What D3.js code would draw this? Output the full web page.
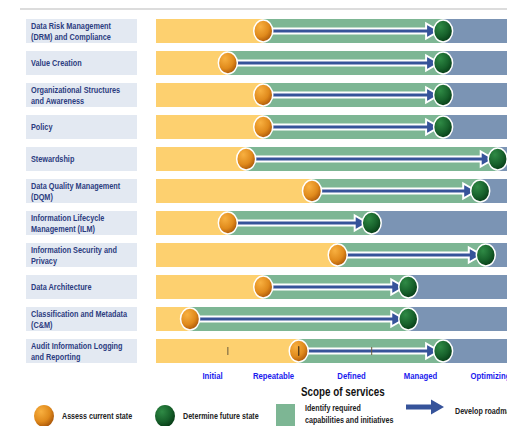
<!DOCTYPE html>
<html>
<head>
<meta charset="utf-8">
<script src="https://cdn.jsdelivr.net/npm/d3@7"></script>
<style>
  body { margin: 0; background: #fff; }
  svg { display: block; }
  text { font-family: "Liberation Sans", Arial, sans-serif; }
</style>
</head>
<body>
<svg id="chart" width="507" height="426"></svg>
<script>
// data
const categories = [
  ["Data Risk Management", "(DRM) and Compliance"],
  ["Value Creation"],
  ["Organizational Structures", "and Awareness"],
  ["Policy"],
  ["Stewardship"],
  ["Data Quality Management", "(DQM)"],
  ["Information Lifecycle", "Management (ILM)"],
  ["Information Security and", "Privacy"],
  ["Data Architecture"],
  ["Classification and Metadata", "(C&M)"],
  ["Audit Information Logging", "and Reporting"]
];
const stages = ["Initial", "Repeatable", "Defined", "Managed", "Optimizing"];
const currentState = [0.84, 0.26, 0.84, 0.84, 0.56, 1.50, 0.26, 1.83, 0.84, -0.36, 1.33];
const futureState  = [3.33, 3.33, 3.33, 3.33, 4.11, 3.86, 2.30, 3.94, 2.83, 2.83, 3.33];
const auditMarks = [0.26, 1.33, 2.30];

const svg = d3.select('#chart');
const width = 507;
const narrow = 0.86; // squeeze text to look like a narrow face

const barLeft = 156;
const x = d3.scaleLinear()
  .domain([0, 1, 2, 3, 4])
  .range([212, 273, 351, 420, 490]);

const y = d3.scaleBand()
  .domain(d3.range(categories.length))
  .range([19, 363])
  .paddingInner(0.25);

const bh = y.bandwidth();

const defs = svg.append('defs');
const og = defs.append('radialGradient').attr('id', 'orangeG')
  .attr('cx', '35%').attr('cy', '30%').attr('r', '75%');
og.append('stop').attr('offset', '0%').attr('stop-color', '#f8b040');
og.append('stop').attr('offset', '60%').attr('stop-color', '#e08a1c');
og.append('stop').attr('offset', '100%').attr('stop-color', '#a85408');
const gg = defs.append('radialGradient').attr('id', 'greenG')
  .attr('cx', '35%').attr('cy', '30%').attr('r', '75%');
gg.append('stop').attr('offset', '0%').attr('stop-color', '#2f8a45');
gg.append('stop').attr('offset', '60%').attr('stop-color', '#17612b');
gg.append('stop').attr('offset', '100%').attr('stop-color', '#063a15');

// top rule
svg.append('line')
  .attr('x1', 20).attr('x2', width).attr('y1', 9).attr('y2', 9)
  .attr('stroke', '#d0d0d0').attr('stroke-width', 1.5);

const rows = svg.selectAll('g.row')
  .data(categories.map((c, i) => ({ label: c, cur: currentState[i], fut: futureState[i], i })))
  .enter().append('g')
  .attr('class', 'row')
  .attr('transform', d => `translate(0,${y(d.i)})`);

// label boxes
rows.append('rect')
  .attr('x', 26).attr('width', 111).attr('height', bh)
  .attr('fill', '#e3e9f2');

rows.append('text')
  .attr('fill', '#2b3c7f')
  .attr('font-size', 8.5)
  .attr('font-weight', 'bold')
  .attr('transform', `translate(31,0) scale(${narrow},1)`)
  .each(function(d) {
    const t = d3.select(this);
    const lines = d.label;
    const y0 = lines.length === 1 ? bh / 2 + 3 : bh / 2 - 1.5;
    lines.forEach((l, k) => {
      t.append('tspan').attr('x', 0).attr('y', y0 + k * 10.5).text(l);
    });
  });

// yellow / green / blue segments
rows.append('rect')
  .attr('x', barLeft).attr('height', bh)
  .attr('width', d => x(d.cur) - barLeft)
  .attr('fill', '#fdd06f');
rows.append('rect')
  .attr('x', d => x(d.cur)).attr('height', bh)
  .attr('width', d => x(d.fut) - x(d.cur))
  .attr('fill', '#7db694');
rows.append('rect')
  .attr('x', d => x(d.fut)).attr('height', bh)
  .attr('width', d => width - x(d.fut) + 10)
  .attr('fill', '#7b94b4');

// audit row small marks
svg.selectAll('line.mark')
  .data(auditMarks)
  .enter().append('line')
  .attr('class', 'mark')
  .attr('x1', d => x(d)).attr('x2', d => x(d))
  .attr('y1', y(10) + bh / 2 - 4).attr('y2', y(10) + bh / 2 + 4)
  .attr('stroke', '#6a5a3a').attr('stroke-width', 1);

// arrows
function arrowPath(x0, x1, cy) {
  const hw = 2.5, hh = 7.5, hl = 13;
  return `M${x0},${cy - hw}L${x1 - hl},${cy - hw}L${x1 - hl},${cy - hh}L${x1},${cy}` +
    `L${x1 - hl},${cy + hh}L${x1 - hl},${cy + hw}L${x0},${cy + hw}Z`;
}
rows.append('path')
  .attr('d', d => arrowPath(x(d.cur) + 8, x(d.fut) - 4, bh / 2))
  .attr('fill', '#36539a')
  .attr('stroke', '#fff').attr('stroke-width', 2)
  .attr('stroke-linejoin', 'miter');

// markers
rows.append('ellipse')
  .attr('cx', d => x(d.cur)).attr('cy', bh / 2)
  .attr('rx', 9.5).attr('ry', 11)
  .attr('fill', 'url(#orangeG)')
  .attr('stroke', '#fff').attr('stroke-width', 1.5);
rows.append('ellipse')
  .attr('cx', d => x(d.fut)).attr('cy', bh / 2)
  .attr('rx', 9.5).attr('ry', 11)
  .attr('fill', 'url(#greenG)')
  .attr('stroke', '#fff').attr('stroke-width', 1.5);

// audit mark over orange circle
svg.append('line')
  .attr('x1', x(auditMarks[1])).attr('x2', x(auditMarks[1]))
  .attr('y1', y(10) + bh / 2 - 5).attr('y2', y(10) + bh / 2 + 5)
  .attr('stroke', '#4a3010').attr('stroke-width', 1);

// stage axis
const xAxis = d3.axisBottom(x).tickValues(d3.range(stages.length))
  .tickFormat(i => stages[i]).tickSize(0);
const ax = svg.append('g')
  .attr('transform', 'translate(0,370)')
  .call(xAxis);
ax.select('.domain').remove();
ax.selectAll('text')
  .attr('fill', '#1a1aee')
  .attr('font-size', 9)
  .attr('font-weight', 'bold')
  .attr('font-family', '"Liberation Sans", Arial, sans-serif')
  .attr('transform', `scale(${narrow},1)`);

// legend
svg.append('text')
  .attr('transform', 'translate(301,396) scale(0.82,1)')
  .attr('font-size', 12).attr('font-weight', 'bold')
  .attr('fill', '#111')
  .text('Scope of services');

const lg = svg.append('g').attr('font-size', 8.3).attr('font-weight', 'bold').attr('fill', '#222');
function legendText(tx, ty, s) {
  lg.append('text').attr('transform', `translate(${tx},${ty}) scale(${narrow},1)`).text(s);
}
lg.append('ellipse').attr('cx', 44).attr('cy', 416).attr('rx', 10).attr('ry', 11)
  .attr('fill', 'url(#orangeG)');
legendText(62, 419, 'Assess current state');
lg.append('ellipse').attr('cx', 165).attr('cy', 416).attr('rx', 10).attr('ry', 11)
  .attr('fill', 'url(#greenG)');
legendText(183, 419, 'Determine future state');
lg.append('rect').attr('x', 276).attr('y', 404).attr('width', 19).attr('height', 24)
  .attr('fill', '#7db694');
legendText(305, 411, 'Identify required');
legendText(305, 423, 'capabilities and initiatives');
lg.append('path')
  .attr('d', arrowPath(406, 444, 407))
  .attr('fill', '#36539a');
legendText(455, 414, 'Develop roadmap');
</script>
</body>
</html>
